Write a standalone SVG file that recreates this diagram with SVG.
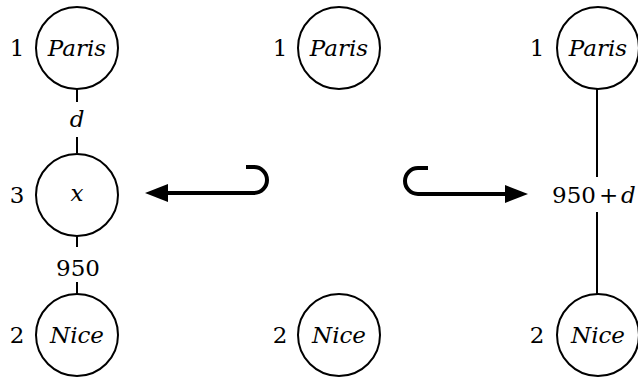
<svg xmlns="http://www.w3.org/2000/svg" width="638" height="379" viewBox="0 0 638 379">
<style>
.c{fill:#fff;stroke:#000;stroke-width:2}
.e{stroke:#000;stroke-width:2;fill:none}
.a{stroke:#000;stroke-width:4;fill:none}
.t{font-family:"DejaVu Serif", serif;font-size:23px;fill:#000}
.i{font-family:"DejaVu Serif", serif;font-style:italic;font-size:23px;fill:#000}
</style>
<rect width="638" height="379" fill="#fff"/>
<g id="connectors">
<line class="e" x1="77" y1="89" x2="77" y2="102"/>
<line class="e" x1="77" y1="137" x2="77" y2="153"/>
<line class="e" x1="77" y1="236" x2="77" y2="247"/>
<line class="e" x1="77" y1="282" x2="77" y2="294"/>
<line class="e" x1="597" y1="89" x2="597" y2="177"/>
<line class="e" x1="597" y1="212" x2="597" y2="294"/>
<text class="i" x="77" y="127" text-anchor="middle">d</text>
<text class="t" x="78" y="276" text-anchor="middle">950</text>
<text class="t" x="552" y="203">950</text>
<text class="t" x="599" y="203">+</text>
<text class="i" x="621" y="203">d</text>
<path class="a" d="M246 167 L254 167 A13 13 0 0 1 254 193 L168 193"/>
<polygon points="145,193 168,184 168,202" fill="#000"/>
<path class="a" d="M428 168 L418 168 A13 13 0 0 0 418 194 L508 194"/>
<polygon points="528,194 505,185 505,203" fill="#000"/>
</g>
<g id="paris1">
<circle class="c" cx="77" cy="48" r="41"/>
<text class="t" x="17" y="56" text-anchor="middle">1</text>
<text class="i" x="77" y="56" text-anchor="middle">Paris</text>
</g>
<g id="x3">
<circle class="c" cx="77" cy="195" r="41"/>
<text class="t" x="17" y="203" text-anchor="middle">3</text>
<text class="i" x="77" y="201" text-anchor="middle">x</text>
</g>
<g id="nice1">
<circle class="c" cx="77" cy="335" r="41"/>
<text class="t" x="17" y="343" text-anchor="middle">2</text>
<text class="i" x="77" y="343" text-anchor="middle">Nice</text>
</g>
<g id="paris2">
<circle class="c" cx="339" cy="48" r="41"/>
<text class="t" x="280" y="56" text-anchor="middle">1</text>
<text class="i" x="339" y="56" text-anchor="middle">Paris</text>
</g>
<g id="nice2">
<circle class="c" cx="339" cy="335" r="41"/>
<text class="t" x="280" y="343" text-anchor="middle">2</text>
<text class="i" x="339" y="343" text-anchor="middle">Nice</text>
</g>
<g id="paris3">
<circle class="c" cx="598" cy="48" r="41"/>
<text class="t" x="537" y="56" text-anchor="middle">1</text>
<text class="i" x="598" y="56" text-anchor="middle">Paris</text>
</g>
<g id="nice3">
<circle class="c" cx="598" cy="335" r="41"/>
<text class="t" x="537" y="343" text-anchor="middle">2</text>
<text class="i" x="598" y="343" text-anchor="middle">Nice</text>
</g>
</svg>
